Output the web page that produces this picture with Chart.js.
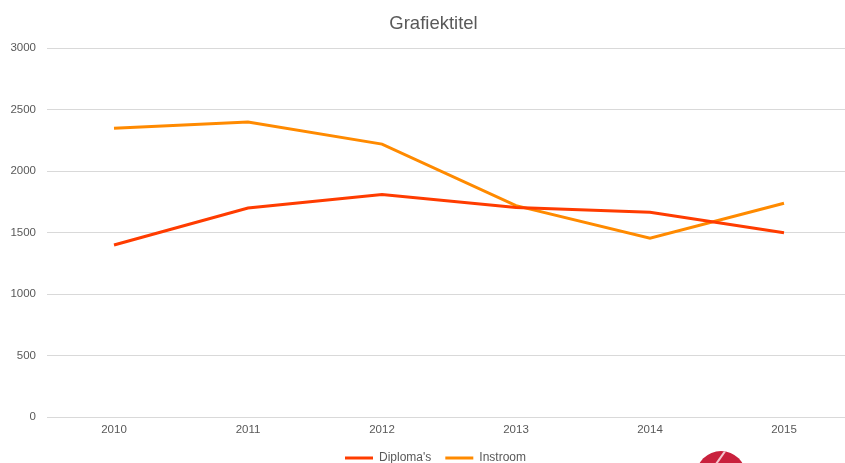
<!DOCTYPE html>
<html>
<head>
<meta charset="utf-8">
<script src="https://cdn.jsdelivr.net/npm/chart.js@4.4.1/dist/chart.umd.min.js"></script>
<style>
  html, body { margin: 0; padding: 0; background: #fff; overflow: hidden; }
  #wrap { position: relative; width: 845px; height: 463px; overflow: hidden; }
  #chart { position: absolute; left: 0; top: 0; }
  #logo {
    position: absolute; left: 696px; top: 451px; width: 50px; height: 50px;
    border-radius: 50%; background: #c9213d; overflow: hidden;
  }
  #logo::after {
    content: ""; position: absolute; left: 24px; top: -4px; width: 2px; height: 20px;
    background: #f3c7cf; transform: rotate(35deg);
  }
</style>
</head>
<body>
<div id="wrap">
  <canvas id="chart" width="868" height="479"></canvas>
  <div id="logo"></div>
</div>
<script>
const years = ["2010", "2011", "2012", "2013", "2014", "2015"];
const diplomas = [1400, 1700, 1810, 1705, 1667, 1500];
const instroom = [2350, 2400, 2220, 1720, 1455, 1740];
const yTicks = [0, 500, 1000, 1500, 2000, 2500, 3000];

const textColor = "#595959";
const fontFamily = "'Liberation Sans', Arial, sans-serif";

// title and legend sit a bit right of the canvas centre in the original
const nudgeBlocks = {
    id: "nudgeBlocks",
    afterLayout(chart) {
        if (chart.titleBlock) {
            chart.titleBlock.left += 8;
            chart.titleBlock.right += 8;
        }
        if (chart.legend) {
            chart.legend.left += 10;
            chart.legend.right += 10;
            chart.legend.top -= 5;
            chart.legend.bottom -= 5;
        }
    }
};

let ctx = document.getElementById("chart").getContext("2d");
new Chart(ctx, {
    type: "line",
    data: {
        labels: years,
        datasets: [
            {
                label: "Diploma's",
                data: diplomas,
                borderColor: "#ff3c00",
                backgroundColor: "#ff3c00",
                borderWidth: 3,
                pointRadius: 0,
                tension: 0,
                fill: false
            },
            {
                label: "Instroom",
                data: instroom,
                borderColor: "#ff8a00",
                backgroundColor: "#ff8a00",
                borderWidth: 3,
                pointRadius: 0,
                tension: 0,
                fill: false
            }
        ]
    },
    plugins: [nudgeBlocks],
    options: {
        responsive: false,
        animation: false,
        layout: {
            padding: { left: 0, right: 17, top: 11, bottom: 0 }
        },
        plugins: {
            title: {
                display: true,
                text: "Grafiektitel",
                color: textColor,
                font: { family: fontFamily, size: 18.5, weight: "normal" },
                padding: { top: 2, bottom: 13 }
            },
            legend: {
                position: "bottom",
                labels: {
                    color: textColor,
                    font: { family: fontFamily, size: 12 },
                    boxWidth: 28,
                    boxHeight: 3,
                    padding: 14,
                    generateLabels: function (chart) {
                        return Chart.defaults.plugins.legend.labels.generateLabels(chart).map(function (item) {
                            item.lineWidth = 0;
                            return item;
                        });
                    }
                }
            },
            tooltip: { enabled: false }
        },
        scales: {
            x: {
                offset: true,
                grid: { display: false, drawTicks: false },
                border: { display: false },
                ticks: {
                    color: textColor,
                    font: { family: fontFamily, size: 11.5 },
                    padding: 6,
                    maxRotation: 0
                }
            },
            y: {
                min: 0,
                max: 3000,
                afterFit: function (scale) {
                    scale.width = 47;
                },
                afterBuildTicks: function (scale) {
                    scale.ticks = yTicks.map(function (v) { return { value: v }; });
                },
                grid: { color: "#d9d9d9", drawTicks: false },
                border: { display: false },
                ticks: {
                    color: textColor,
                    font: { family: fontFamily, size: 11.5 },
                    padding: 11,
                    callback: function (value) { return String(value); }
                }
            }
        }
    }
});
</script>
</body>
</html>
